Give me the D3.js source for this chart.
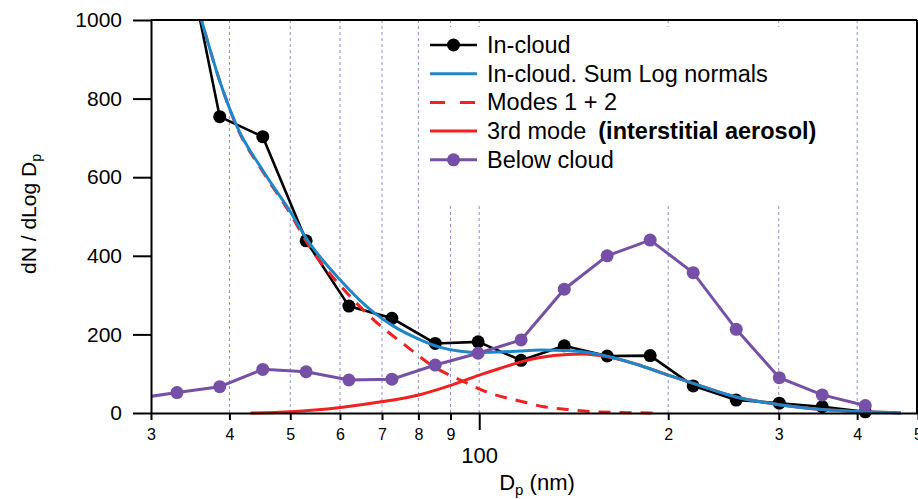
<!DOCTYPE html>
<html>
<head>
<meta charset="utf-8">
<script src="https://cdn.jsdelivr.net/npm/d3@7"></script>
<style>
  html, body { margin: 0; padding: 0; background: #fff; }
  svg { display: block; font-family: "Liberation Sans", Arial, sans-serif; }
</style>
</head>
<body>
<svg id="chart" width="918" height="499"></svg>
<script>
// ---------------- data ----------------
const inCloudD = [33.0, 38.6, 45.2, 53.0, 62.0, 72.6, 85.1, 99.6, 116.6, 136.6, 159.9, 187.2, 219.2, 256.7, 300.6, 351.9, 412.1];
const inCloudN = [1290, 754, 703, 438, 272, 241, 177, 181, 134, 171, 145, 146, 69, 33, 25, 16, 3];

const belowD = [28.2, 33.0, 38.6, 45.2, 53.0, 62.0, 72.6, 85.1, 99.6, 116.6, 136.6, 159.9, 187.2, 219.2, 256.7, 300.6, 351.9, 412.1];
const belowN = [36, 52, 67, 111, 105, 84, 86, 122, 152, 186, 315, 400, 440, 357, 213, 90, 46, 19];

const sumD = [35, 36.1, 38.6, 41.1, 45.3, 50.1, 53, 60.1, 67.9, 73, 80.1, 86.7, 93.3, 100.3, 108.1, 116.4, 125, 138.1, 156.1, 176.4, 201.1, 218.6, 254.7, 300.4, 351.6, 411.9, 469.8];
const sumN = [1075, 1000, 845, 730, 615, 510, 445, 338, 256, 221, 188, 167, 157, 154, 155, 158, 160, 159, 148, 126, 95, 76, 42, 21, 9, 3, 0];

const modes12D = [35, 36.1, 38.6, 41.1, 45.3, 50.1, 53, 61.6, 67.9, 76.7, 84.6, 93.3, 104.2, 116.4, 126.7, 138.1, 156.1, 192.3];
const modes12N = [1075, 1000, 845, 728, 612, 505, 437, 305, 237, 169, 118, 84, 50, 30, 16, 9, 2.5, 0];

const mode3D = [43.2, 50.1, 60.1, 70.2, 80.1, 90.3, 100.3, 108.1, 116.6, 125, 138.1, 146.6, 159.6, 176.4, 201.1, 218.6, 254.7, 300.4, 351.6, 411.9, 469.8];
const mode3N = [0, 3, 14, 29, 46, 71, 97, 114, 130, 141, 149, 150, 143, 126, 95, 76, 42, 21, 9, 3, 0];

const xTickValues = [30, 40, 50, 60, 70, 80, 90, 100, 200, 300, 400, 500];
const xTickLabels = ["3", "4", "5", "6", "7", "8", "9", "100", "2", "3", "4", "5"];
const gridValues = [40, 50, 60, 70, 80, 90, 100, 200, 300, 400];
const yTickValues = [0, 200, 400, 600, 800, 1000];

const legendItems = [
  { label: "In-cloud", color: "#000000", dash: null, marker: true },
  { label: "In-cloud. Sum Log normals", color: "#1f87c9", dash: null, marker: false },
  { label: "Modes 1 + 2", color: "#ee2222", dash: "15,15", marker: false },
  { label: "3rd mode", bold: "(interstitial aerosol)", color: "#ee2222", dash: null, marker: false },
  { label: "Below cloud", color: "#7650a6", dash: null, marker: true }
];

// ---------------- layout ----------------
const svg = d3.select("#chart");
const L = 151, R = 918, T = 20, B = 413;
const x = d3.scaleLog().domain([30, 500]).range([L, R]);
const y = d3.scaleLinear().domain([0, 1000]).range([B, T]);

const COL_BLACK = "#000000", COL_BLUE = "#1f87c9", COL_RED = "#ee2222", COL_PURPLE = "#7650a6";

svg.append("defs").append("clipPath").attr("id", "plotclip")
  .append("rect").attr("x", L).attr("y", T).attr("width", R - L).attr("height", B - T + 6);

// grid lines
svg.append("g").selectAll("line").data(gridValues).join("line")
  .attr("x1", d => x(d)).attr("x2", d => x(d))
  .attr("y1", T).attr("y2", B)
  .attr("stroke", "#8d8fd8").attr("stroke-width", 1)
  .attr("stroke-dasharray", "3,3");

// legend background box
svg.append("rect").attr("x", 423).attr("y", 27).attr("width", 412).attr("height", 177).attr("fill", "#fff");

const plot = svg.append("g").attr("clip-path", "url(#plotclip)");

function zipped(xs, ys) { return xs.map((d, i) => [d, ys[i]]); }

const lineLin = d3.line().x(d => x(d[0])).y(d => y(d[1]));
const lineSmooth = d3.line().x(d => x(d[0])).y(d => y(d[1])).curve(d3.curveMonotoneX);

// In-cloud (black)
plot.append("path").datum(zipped(inCloudD, inCloudN))
  .attr("d", lineLin).attr("fill", "none").attr("stroke", COL_BLACK).attr("stroke-width", 2.6);
plot.append("g").selectAll("circle").data(zipped(inCloudD, inCloudN)).join("circle")
  .attr("cx", d => x(d[0])).attr("cy", d => y(d[1])).attr("r", 6.5).attr("fill", COL_BLACK);

// Modes 1+2 (red dashed)
plot.append("path").datum(zipped(modes12D, modes12N))
  .attr("d", lineSmooth).attr("fill", "none").attr("stroke", COL_RED).attr("stroke-width", 3)
  .attr("stroke-dasharray", "12,9");

// 3rd mode (red solid)
plot.append("path").datum(zipped(mode3D, mode3N))
  .attr("d", lineSmooth).attr("fill", "none").attr("stroke", COL_RED).attr("stroke-width", 3);

// Sum (blue)
plot.append("path").datum(zipped(sumD, sumN))
  .attr("d", lineSmooth).attr("fill", "none").attr("stroke", COL_BLUE).attr("stroke-width", 3);

// Below cloud (purple)
plot.append("path").datum(zipped(belowD, belowN))
  .attr("d", lineLin).attr("fill", "none").attr("stroke", COL_PURPLE).attr("stroke-width", 3);
plot.append("g").selectAll("circle").data(zipped(belowD, belowN)).join("circle")
  .attr("cx", d => x(d[0])).attr("cy", d => y(d[1])).attr("r", 6.5).attr("fill", COL_PURPLE);

// ---------------- axes ----------------
// frame (top and right)
svg.append("line").attr("x1", L).attr("x2", R - 1).attr("y1", T).attr("y2", T).attr("stroke", "#000").attr("stroke-width", 2);
svg.append("line").attr("x1", R - 1).attr("x2", R - 1).attr("y1", T).attr("y2", B).attr("stroke", "#000").attr("stroke-width", 2);

const yAxis = svg.append("g").attr("transform", `translate(${L},0)`)
  .call(d3.axisLeft(y).tickValues(yTickValues).tickFormat(d3.format("d")).tickSize(18).tickPadding(11).tickSizeOuter(0));
yAxis.select(".domain").attr("stroke-width", 2);
yAxis.selectAll(".tick line").attr("stroke-width", 2);
yAxis.selectAll(".tick text").attr("font-size", 21).attr("font-family", "Liberation Sans, Arial, sans-serif").attr("fill", "#000");

const xAxis = svg.append("g").attr("transform", `translate(0,${B})`)
  .call(d3.axisBottom(x).tickValues(xTickValues).tickFormat((d, i) => xTickLabels[i]).tickSize(7).tickSizeOuter(0));
xAxis.select(".domain").attr("stroke-width", 2);
xAxis.selectAll(".tick line").attr("stroke-width", 2).attr("y2", d => d === 100 ? 17 : 7);
xAxis.selectAll(".tick text")
  .attr("font-family", "Liberation Sans, Arial, sans-serif").attr("fill", "#000")
  .attr("dy", null)
  .attr("y", d => d === 100 ? 50 : 27)
  .attr("font-size", d => d === 100 ? 22 : 16);

// axis titles
const yt = svg.append("text").attr("transform", "translate(36,214) rotate(-90)")
  .attr("text-anchor", "middle").attr("font-size", 21).attr("fill", "#000");
yt.append("tspan").text("dN / dLog D");
yt.append("tspan").attr("font-size", 14).attr("dy", 5).text("p");

const xt = svg.append("text").attr("x", 537).attr("y", 490)
  .attr("text-anchor", "middle").attr("font-size", 22).attr("fill", "#000");
xt.append("tspan").text("D");
xt.append("tspan").attr("font-size", 15).attr("dy", 5).text("p");
xt.append("tspan").attr("dy", -5).text(" (nm)");

// ---------------- legend ----------------
const lg = svg.append("g");
legendItems.forEach((it, i) => {
  const cy = 45 + i * 28.7;
  const g = lg.append("g");
  g.append("line").attr("x1", 430).attr("x2", 477).attr("y1", cy).attr("y2", cy)
    .attr("stroke", it.color).attr("stroke-width", it.marker && it.color === "#000000" ? 2.6 : 3)
    .attr("stroke-dasharray", it.dash);
  if (it.marker) g.append("circle").attr("cx", 453.5).attr("cy", cy).attr("r", 6.5).attr("fill", it.color);
  const t = g.append("text").attr("x", 487).attr("y", cy + 8).attr("font-size", 23.5).attr("fill", "#000");
  t.append("tspan").text(it.label);
  if (it.bold) t.append("tspan").attr("dx", 12).attr("font-weight", "bold").text(it.bold);
});
</script>
</body>
</html>
